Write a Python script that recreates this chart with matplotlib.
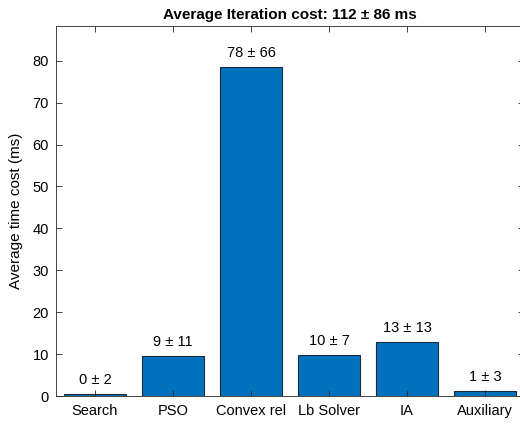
import matplotlib
matplotlib.use("Agg")
import matplotlib.pyplot as plt

categories = ["Search", "PSO", "Convex rel", "Lb Solver", "IA", "Auxiliary"]
means = [0.4, 9.6, 78.5, 9.8, 12.9, 1.2]
labels = ["0 ± 2", "9 ± 11", "78 ± 66", "10 ± 7", "13 ± 13", "1 ± 3"]
title = "Average Iteration cost: 112 ± 86 ms"
ylabel = "Average time cost (ms)"

plt.rcParams['font.family'] = ['Liberation Sans', 'DejaVu Sans']
fig = plt.figure(figsize=(5.2, 4.24), dpi=100)
# axes spans pixel x 56..524, y 26..396 (top-origin)
ax = fig.add_axes([56/520, (424-396)/424, (524-56)/520, (396-26)/424])
x = list(range(1, len(categories)+1))
ax.bar(x, means, width=0.8, color="#0072BD", edgecolor="#1a2a3a", linewidth=0.8)
for xi, m, lab in zip(x, means, labels):
    ax.annotate(lab, (xi, m), xytext=(0, 5), textcoords="offset points",
                ha="center", va="bottom", fontsize=10.5, color="#000000")
ax.set_xlim(0.5, 6.5)
ax.set_ylim(0, 88.3)
ax.set_xticks(x)
ax.set_xticklabels(categories)
ax.set_yticks(range(0, 81, 10))
ax.tick_params(direction="in", top=True, right=True, labelsize=10.5, colors="#262626",
               length=4, width=0.6)
ax.tick_params(axis="x", pad=6)
ax.tick_params(axis="y", pad=5)
for lab in ax.get_xticklabels() + ax.get_yticklabels():
    lab.set_color("#000000")
for s in ax.spines.values():
    s.set_color("#262626")
    s.set_linewidth(0.6)
ax.set_ylabel(ylabel, fontsize=11, labelpad=7)
ax.set_title(title, fontsize=11, fontweight="bold", pad=5)
fig.savefig("out.png", dpi=100)
